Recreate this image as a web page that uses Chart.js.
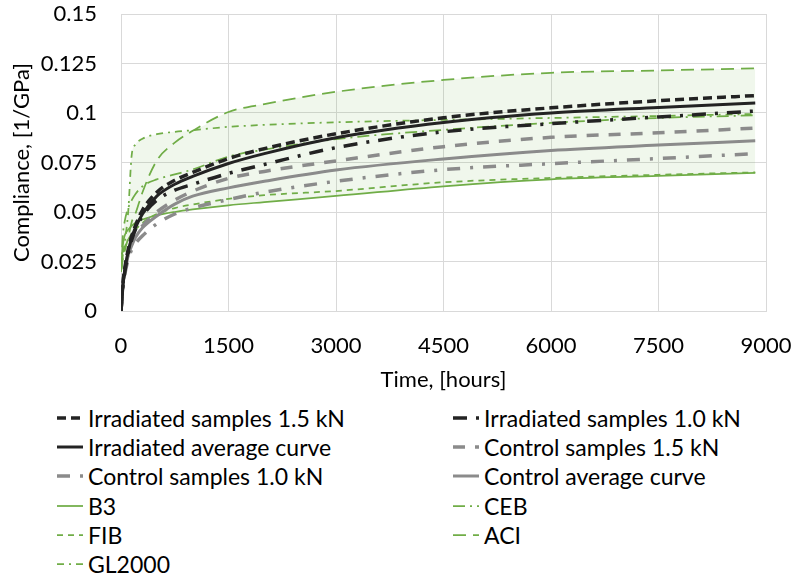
<!DOCTYPE html>
<html><head><meta charset="utf-8">
<script src="https://cdn.jsdelivr.net/npm/chart.js@4.4.1/dist/chart.umd.min.js"></script>
<style>
html,body{margin:0;padding:0;background:#fff;}
#wrap{position:relative;width:794px;height:583px;overflow:hidden;}
#c{position:absolute;left:0;top:0;}
#legend{position:absolute;left:57px;top:403px;display:grid;grid-template-columns:396px 330px;grid-auto-rows:29.3px;font-family:Lato,sans-serif;font-size:23px;color:#000;}
.item{display:flex;align-items:center;white-space:nowrap;}
.item svg{margin-right:5px;flex:none;}
</style></head><body>
<div id="wrap"><canvas id="c" width="794" height="400"></canvas><div id="legend"></div></div>
<script>
// Time axis (hours)
const hours = [0, 25, 50, 100, 150, 200, 300, 500, 750, 1000, 1500, 2000, 3000, 4500, 6000, 7500, 8850];
// Measured curves (1/GPa)
const irradiated15 = [0, 0.013, 0.021, 0.031, 0.038, 0.043, 0.051, 0.060, 0.066, 0.070, 0.077, 0.082, 0.0895, 0.0976, 0.1026, 0.1062, 0.1088];
const irradiated10 = [0, 0.012, 0.019, 0.029, 0.036, 0.041, 0.048, 0.056, 0.061, 0.064, 0.0695, 0.074, 0.0825, 0.0905, 0.0946, 0.098, 0.101];
const irradiatedAvg = [0, 0.012, 0.020, 0.030, 0.037, 0.042, 0.049, 0.058, 0.064, 0.068, 0.0745, 0.0795, 0.0875, 0.0952, 0.100, 0.1028, 0.105];
const control15 = [0, 0.014, 0.020, 0.029, 0.034, 0.038, 0.043, 0.050, 0.056, 0.0605, 0.067, 0.0705, 0.0758, 0.083, 0.0877, 0.090, 0.0924];
const control10 = [0, 0.012, 0.018, 0.026, 0.031, 0.034, 0.038, 0.044, 0.049, 0.052, 0.0563, 0.060, 0.0655, 0.0714, 0.0744, 0.077, 0.0795];
const controlAvg = [0, 0.013, 0.019, 0.028, 0.033, 0.037, 0.042, 0.048, 0.054, 0.058, 0.0622, 0.0655, 0.0712, 0.0768, 0.0811, 0.0838, 0.086];
// Model predictions (1/GPa)
const b3 = [0.02, 0.033, 0.038, 0.041, 0.043, 0.0445, 0.0462, 0.0483, 0.050, 0.0513, 0.0534, 0.055, 0.0581, 0.063, 0.0665, 0.0682, 0.0697];
const ceb = [0.02, 0.038, 0.045, 0.052, 0.056, 0.059, 0.063, 0.0665, 0.069, 0.0715, 0.078, 0.0815, 0.0868, 0.0915, 0.095, 0.0975, 0.0988];
const fib = [0.02, 0.028, 0.032, 0.036, 0.039, 0.041, 0.0445, 0.049, 0.052, 0.0538, 0.0566, 0.0585, 0.0606, 0.065, 0.0672, 0.0688, 0.070];
const aci = [0.02, 0.026, 0.030, 0.037, 0.045, 0.049, 0.060, 0.076, 0.085, 0.091, 0.1005, 0.1045, 0.1107, 0.1167, 0.1203, 0.1215, 0.1225];
const gl2000 = [0.02, 0.028, 0.034, 0.050, 0.079, 0.084, 0.087, 0.0893, 0.0905, 0.0913, 0.093, 0.094, 0.0953, 0.0965, 0.0975, 0.0985, 0.0995];
// Axis ticks
const xTicks = [0, 1500, 3000, 4500, 6000, 7500, 9000];
const yTicks = [0, 0.025, 0.05, 0.075, 0.1, 0.125, 0.15];

const BLACK = '#232323', GREY = '#8b8b8b', GREEN = '#70ad47';
const pts = arr => hours.map((t, i) => ({x: t, y: arr[i]}));
const models = [b3, ceb, fib, aci, gl2000];
const upper = hours.map((t, i) => Math.max(...models.map(m => m[i])));
const lower = hours.map((t, i) => Math.min(...models.map(m => m[i])));

function ds(label, arr, color, width, dash) {
  return {label, data: pts(arr), borderColor: color, backgroundColor: color, borderWidth: width,
    borderDash: dash, pointRadius: 0, fill: false, cubicInterpolationMode: 'monotone', order: 1};
}
const datasets = [
  ds('Irradiated samples 1.5 kN', irradiated15, BLACK, 3.5, [9, 5]),
  ds('Irradiated samples 1.0 kN', irradiated10, BLACK, 3.5, [14, 9, 3, 9]),
  ds('Irradiated average curve', irradiatedAvg, BLACK, 3, []),
  ds('Control samples 1.5 kN', control15, GREY, 3.5, [12, 10]),
  ds('Control samples 1.0 kN', control10, GREY, 3.5, [13, 10, 3, 10]),
  ds('Control average curve', controlAvg, GREY, 3, []),
  ds('B3', b3, GREEN, 1.75, []),
  ds('CEB', ceb, GREEN, 1.75, [12, 5, 2, 5]),
  ds('FIB', fib, GREEN, 1.75, [6, 5]),
  ds('ACI', aci, GREEN, 1.75, [13, 7]),
  ds('GL2000', gl2000, GREEN, 1.75, [7, 5, 2, 5]),
  {label: '_upper', data: pts(upper), borderWidth: 0, borderColor: 'rgba(0,0,0,0)', pointRadius: 0, fill: false, cubicInterpolationMode: 'monotone', order: 10},
  {label: '_lower', data: pts(lower), borderWidth: 0, borderColor: 'rgba(0,0,0,0)', pointRadius: 0, fill: 11, backgroundColor: 'rgba(112,173,71,0.10)', cubicInterpolationMode: 'monotone', order: 10}
];

const FONT = 'Lato, sans-serif';
const chart = new Chart(document.getElementById('c'), {
  type: 'line',
  data: {datasets},
  options: {
    responsive: false, animation: false,
    layout: {padding: {top: 14, right: 28, left: 0, bottom: 0}},
    plugins: {legend: {display: false}, tooltip: {enabled: false}},
    scales: {
      x: {type: 'linear', min: 0, max: 9000,
        afterBuildTicks: s => { s.ticks = xTicks.map(v => ({value: v})); },
        afterFit: s => { s.height = 89; s.paddingLeft = 0; s.paddingRight = 0; },
        grid: {color: '#d9d9d9', lineWidth: 1, drawTicks: false},
        border: {color: '#d9d9d9'},
        ticks: {padding: 22, color: '#000', font: {family: FONT, size: 22}, callback: v => String(v), maxRotation: 0},
        title: {display: true, text: 'Time, [hours]', color: '#000', font: {family: FONT, size: 22}, padding: {top: 0, bottom: 7}}
      },
      y: {type: 'linear', min: 0, max: 0.15,
        afterBuildTicks: s => { s.ticks = yTicks.map(v => ({value: v})); },
        afterFit: s => { s.width = 121; s.paddingTop = 0; s.paddingBottom = 0; },
        grid: {color: '#d9d9d9', lineWidth: 1, drawTicks: false},
        border: {color: '#d9d9d9'},
        ticks: {padding: 24, color: '#000', font: {family: FONT, size: 22}, callback: v => String(+v.toFixed(3))},
        title: {display: true, text: 'Compliance, [1/GPa]', color: '#000', font: {family: FONT, size: 22}, padding: {top: 9, bottom: 0}}
      }
    }
  }
});

// HTML legend built from the chart's datasets
const leg = document.getElementById('legend');
chart.data.datasets.forEach(d => {
  if (d.label.startsWith('_')) return;
  const it = document.createElement('div'); it.className = 'item';
  const dash = (d.borderDash && d.borderDash.length) ? d.borderDash.join(' ') : 'none';
  it.innerHTML = '<svg width="26" height="12"><line x1="0" y1="6" x2="26" y2="6" stroke="' + d.borderColor +
    '" stroke-width="' + d.borderWidth + '" stroke-dasharray="' + dash + '"/></svg>';
  const sp = document.createElement('span'); sp.textContent = d.label; it.appendChild(sp);
  leg.appendChild(it);
});
</script>
</body></html>
